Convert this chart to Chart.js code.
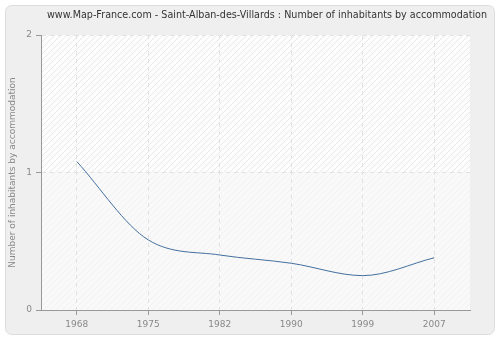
<!DOCTYPE html>
<html>
<head>
<meta charset="utf-8">
<script src="https://cdn.jsdelivr.net/npm/chart.js@4/dist/chart.umd.min.js"></script>
<style>
  html, body { margin: 0; padding: 0; background: #ffffff; }
  #wrap { width: 500px; height: 340px; }
</style>
</head>
<body>
<div id="wrap"><canvas id="chart1" width="500" height="340"></canvas></div>
<script>
const titleText = 'www.Map-France.com - Saint-Alban-des-Villards : Number of inhabitants by accommodation';
const yTitle = 'Number of inhabitants by accommodation';
const years = ['1968', '1975', '1982', '1990', '1999', '2007'];
const inhabitants = [1.08, 0.51, 0.40, 0.34, 0.25, 0.38];

const fontFamily = '"DejaVu Sans", Verdana, sans-serif';

function hatch(color, bg) {
  const c = document.createElement('canvas');
  c.width = 6;
  c.height = 6;
  const g = c.getContext('2d');
  g.fillStyle = bg;
  g.fillRect(0, 0, 6, 6);
  g.strokeStyle = color;
  g.lineWidth = 1;
  g.beginPath();
  g.moveTo(0, 6);
  g.lineTo(6, 0);
  g.stroke();
  return g.createPattern(c, 'repeat');
}

const backdrop = {
  id: 'backdrop',
  beforeDraw(chart) {
    const ctx = chart.ctx;
    const area = chart.chartArea;
    const y = chart.scales.y;
    ctx.save();
    // outer panel
    ctx.fillStyle = '#efefef';
    ctx.strokeStyle = '#dddddd';
    ctx.lineWidth = 1;
    ctx.beginPath();
    ctx.roundRect(5.5, 5.5, 489, 329, 6);
    ctx.fill();
    ctx.stroke();
    // plot area
    const mid = y.getPixelForValue(1);
    ctx.fillStyle = hatch('#e8e8e8', '#fdfdfd');
    ctx.fillRect(area.left, area.top, area.right - area.left, mid - area.top);
    ctx.fillStyle = hatch('#f2f2f2', '#f9f9f9');
    ctx.fillRect(area.left, mid, area.right - area.left, area.bottom - mid);
    // title
    ctx.fillStyle = '#333333';
    ctx.font = '9.6px ' + fontFamily;
    ctx.textAlign = 'center';
    ctx.textBaseline = 'middle';
    ctx.fillText(titleText, 267, 15);
    ctx.restore();
  }
};

const tickFont = { family: fontFamily, size: 9 };

new Chart(document.getElementById('chart1').getContext('2d'), {
  type: 'line',
  data: {
    labels: years,
    datasets: [{
      data: inhabitants,
      borderColor: '#43709f',
      borderWidth: 1,
      pointRadius: 0,
      fill: false,
      cubicInterpolationMode: 'monotone'
    }]
  },
  options: {
    responsive: false,
    animation: false,
    layout: { padding: { top: 35, right: 30, bottom: 0, left: 0 } },
    plugins: {
      legend: { display: false },
      tooltip: { enabled: false }
    },
    scales: {
      x: {
        offset: true,
        grid: { color: '#e2e2e2', tickColor: '#999999', tickLength: 5, tickBorderDash: [] },
        border: { color: '#999999', dash: [4, 4] },
        ticks: { color: '#888888', font: tickFont, padding: 4, maxRotation: 0 },
        afterFit(scale) { scale.height = 30; }
      },
      y: {
        min: 0,
        max: 2,
        grid: { color: '#e2e2e2', tickColor: '#999999', tickLength: 5, tickBorderDash: [] },
        border: { color: '#999999', dash: [4, 4] },
        ticks: { color: '#888888', font: tickFont, padding: 4, stepSize: 1 },
        title: {
          display: true,
          text: yTitle,
          color: '#888888',
          font: tickFont,
          padding: { top: 7, bottom: 0 }
        },
        afterFit(scale) { scale.width = 41; }
      }
    }
  },
  plugins: [backdrop]
});
</script>
</body>
</html>
